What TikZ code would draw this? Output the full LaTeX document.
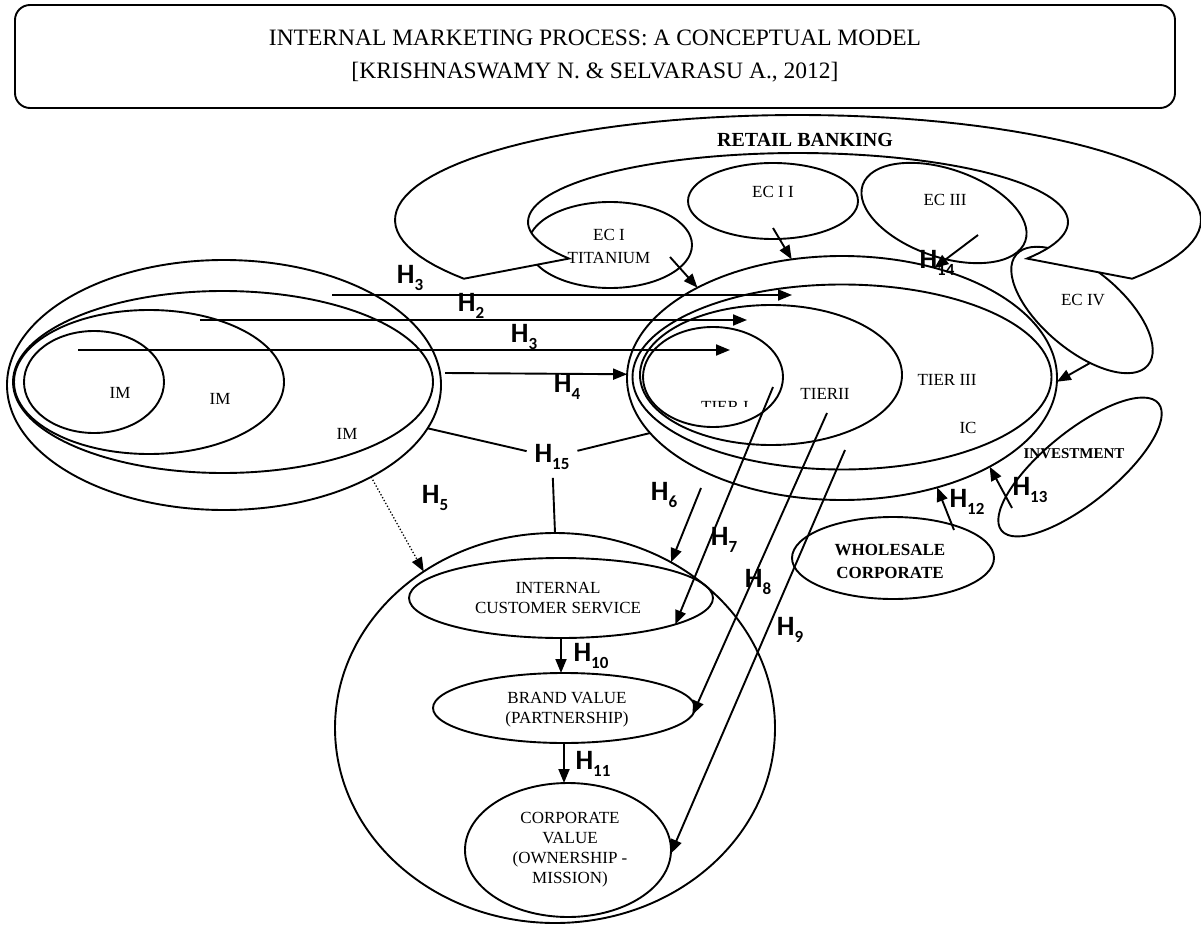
\documentclass[tikz,border=0pt]{standalone}
\usepackage{fontspec}
\setmainfont{Liberation Serif}
\newfontfamily\hfont{Carlito}
\usetikzlibrary{shapes.geometric,arrows.meta}
\newcommand{\hyp}[1]{{\hfont\bfseries\fontsize{28}{28}\selectfont H\raisebox{-0.27em}{\fontsize{17}{17}\selectfont #1}}}

\begin{document}
\begin{tikzpicture}[x=1pt, y=-1pt, line width=1.9pt,
    oval/.style={shape=ellipse, draw, inner sep=0pt, outer sep=0pt},
    txt/.style={font=\fontsize{17}{20}\selectfont, align=center, inner sep=0pt},
    hlab/.style={inner sep=1pt},
    hyparrow/.style={-{Triangle[length=14pt, width=11pt]}}]
    \useasboundingbox (0,0) rectangle (1201,925);
    % Title box
    \node[draw, rounded corners=15pt, minimum width=1160pt, minimum height=103pt, align=center, font=\fontsize{23.5}{33}\selectfont] (title) at (595,56.5) {INTERNAL MARKETING PROCESS: A CONCEPTUAL MODEL\\ {[}KRISHNASWAMY N. \& SELVARASU A., 2012]};
    % Retail banking band, drawn over EC I and EC IV
    \node[oval, minimum width=164pt, minimum height=86pt] (ec1) at (610,245) {};
    \node[oval, minimum width=172pt, minimum height=80pt, rotate=-40] (ec4) at (1082,310) {};
    \draw[fill=white] plot[domain=146:394, samples=90] ({798+403*cos(\x)},{220+105*sin(\x)})
        -- plot[domain=0:244, samples=90] ({798+270*cos(32-\x)},{222+69*sin(32-\x)}) -- cycle;
    \node[font=\bfseries\fontsize{20}{22}\selectfont, inner sep=0pt] (retail) at (805,140) {RETAIL BANKING};
    \node[oval, minimum width=170pt, minimum height=76pt] (ec2) at (773,201) {};
    \node[oval, minimum width=172pt, minimum height=88pt, rotate=-19] (ec3) at (944,213) {};
    \node[txt, font=\fontsize{17}{23}\selectfont] (ec1t) at (609,246) {EC I\\TITANIUM};
    \node[txt] (ec2t) at (773,192) {EC I I};
    \node[txt] (ec3t) at (945,200) {EC III};
    \node[txt] (ec4t) at (1083,300) {EC IV};
    % Internal marketing ellipses
    \node[oval, minimum width=434pt, minimum height=250pt] (im1) at (224,385) {};
    \node[oval, minimum width=420pt, minimum height=182pt] (im2) at (223,382) {};
    \node[oval, minimum width=270pt, minimum height=144pt] (im3) at (149,382) {};
    \node[oval, minimum width=140pt, minimum height=102pt] (im4) at (94,382) {};
    \node[txt] (im4t) at (120,393) {IM};
    \node[txt] (im3t) at (220,399) {IM};
    \node[txt] (im2t) at (347,434) {IM};
    % Internal customer tiers
    \node[oval, minimum width=430pt, minimum height=244pt] (ic) at (842,378) {};
    \node[oval, minimum width=419pt, minimum height=185pt] (tier3) at (842,377) {};
    \node[oval, minimum width=262pt, minimum height=140pt] (tier2) at (771,375) {};
    \node[oval, minimum width=140pt, minimum height=100pt] (tier1) at (713,377) {};
    \node[txt] (tier3t) at (947,380) {TIER III};
    \node[txt] (ict) at (968,428) {IC};
    \node[txt] (tier2t) at (825,394) {TIERII};
    \begin{scope}
        \clip (690,394) rectangle (770,406);
        \node[txt] (tier1t) at (725,407) {TIER I};
    \end{scope}
    % Wholesale and investment
    \node[oval, minimum width=202pt, minimum height=82pt] (whl) at (893,558) {};
    \node[oval, minimum width=202pt, minimum height=72pt, rotate=39] (inv) at (1080,467) {};
    \node[txt, font=\bfseries\fontsize{17}{23}\selectfont] (whlt) at (890,561) {WHOLESALE\\CORPORATE};
    \node[txt, font=\bfseries\fontsize{15}{17}\selectfont] (invt) at (1074,454) {INVESTMENT};
    % Outcome ellipses
    \node[oval, minimum width=440pt, minimum height=390pt] (core) at (555,728) {};
    \node[oval, minimum width=304pt, minimum height=80pt] (ics) at (561,598) {};
    \node[oval, minimum width=262pt, minimum height=70pt] (bv) at (564,708) {};
    \node[oval, minimum width=206pt, minimum height=134pt] (cv) at (568,850) {};
    \node[txt] (icst) at (558,598) {INTERNAL\\CUSTOMER SERVICE};
    \node[txt] (bvt) at (567,710) {BRAND VALUE\\(PARTNERSHIP)};
    \node[txt] (cvt) at (570,850) {CORPORATE\\VALUE\\(OWNERSHIP -\\MISSION)};
    % Free ends of the connectors
    \coordinate (a1) at (332,295);  \coordinate (b1) at (792,295);
    \coordinate (a2) at (200,320);  \coordinate (b2) at (747,320);
    \coordinate (a3) at (78,350);   \coordinate (b3) at (730,350);
    \coordinate (a4) at (445,373);
    \coordinate (a6) at (701,488);
    \coordinate (a7) at (773,387);
    \coordinate (a8) at (827,413);
    \coordinate (a9) at (845,450);
    \coordinate (a12) at (954,530);
    \coordinate (a13) at (1012,508);
    \coordinate (c1) at (670,257);
    \coordinate (c2) at (773,228);
    \coordinate (c3) at (978,235);
    \coordinate (c4) at (1090,363);
    % Hypothesis labels
    \node[hlab] (h3a) at (410,278) {\hyp{3}};
    \node[hlab] (h2) at (471,306) {\hyp{2}};
    \node[hlab] (h3b) at (524,337) {\hyp{3}};
    \node[hlab] (h4) at (567,387) {\hyp{4}};
    \node[hlab] (h5) at (435,498) {\hyp{5}};
    \node[hlab] (h6) at (664,495) {\hyp{6}};
    \node[hlab] (h7) at (724,540) {\hyp{7}};
    \node[hlab] (h8) at (758,582) {\hyp{8}};
    \node[hlab] (h9) at (790,630) {\hyp{9}};
    \node[hlab] (h10) at (591,656) {\hyp{10}};
    \node[hlab] (h11) at (593,764) {\hyp{11}};
    \node[hlab] (h12) at (967,502) {\hyp{12}};
    \node[hlab] (h13) at (1030,490) {\hyp{13}};
    \node[hlab] (h14) at (937,263) {\hyp{14}};
    \node[inner sep=7pt] (h15) at (552,457) {\hyp{15}};
    % Arrows
    \draw[hyparrow] (a1) -- (b1);
    \draw[hyparrow] (a2) -- (b2);
    \draw[hyparrow] (a3) -- (b3);
    \draw[hyparrow] (a4) -- (ic.179);
    \draw[hyparrow, dotted, line width=1.3pt] (im1.-32) -- (core.130);
    \draw[hyparrow] (a6) -- (core.55);
    \draw[hyparrow] (a7) -- (ics.-13);
    \draw[hyparrow] (a8) -- (bv.-3);
    \draw[hyparrow] (a9) -- (cv.-2);
    \draw[hyparrow] (ics.south) -- (ics.south |- bv.north);
    \draw[hyparrow] (bv.south) -- (bv.south |- cv.north);
    \draw[hyparrow] (a12) -- (ic.-49);
    \draw[hyparrow] (a13) -- (ic.-31);
    \draw[hyparrow] (c1) -- (ic.148);
    \draw[hyparrow] (c2) -- (ic.113);
    \draw[hyparrow] (c3) -- (ic.50);
    \draw[hyparrow] (c4) -- (ic.-1);
    % H15 links
    \draw (im1.-12) -- (h15);
    \draw (h15) -- (ic.196);
    \draw (h15) -- (core.north);
\end{tikzpicture}
\end{document}
